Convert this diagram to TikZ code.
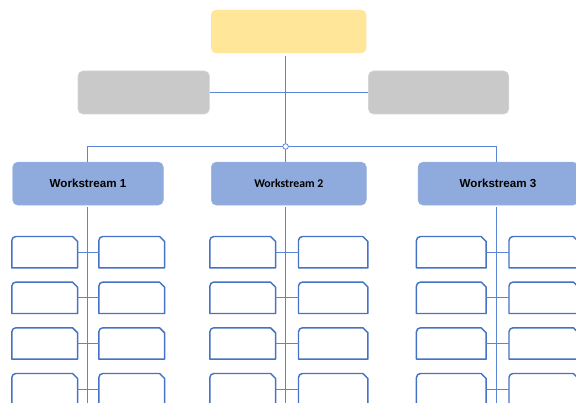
\documentclass[tikz,border=0pt]{standalone}
\usepackage{fontspec}
\setmainfont{Liberation Sans}
\newfontfamily\calibfont{Carlito}
\definecolor{ylw}{HTML}{FFE699}
\definecolor{gry}{HTML}{C9C9C9}
\definecolor{wsf}{HTML}{8FAADC}
\definecolor{lnc}{HTML}{5B86D6}
\definecolor{bxc}{HTML}{4472C4}
\newcommand\snipbox[1]{\draw[subline] (#1.south west) -- ([yshift=-4pt]#1.north west) arc[start angle=180,end angle=90,radius=4pt] -- ([xshift=-5pt]#1.north east) -- ([yshift=-5pt]#1.north east) -- (#1.south east) -- cycle;}
\begin{document}
\begin{tikzpicture}[x=1pt,y=-1pt,
  big/.style={rounded corners=5pt, inner sep=0, minimum height=43pt},
  topbox/.style={big, fill=ylw, draw=ylw!90!white, line width=0.4pt, minimum width=155pt},
  sidebox/.style={big, fill=gry, draw=gry!80!white, line width=0.6pt},
  wsbox/.style={big, fill=wsf, draw=wsf!90!white, line width=0.4pt, font=\bfseries\fontsize{11.6}{13}\selectfont},
  subbox/.style={inner sep=0, minimum height=31pt},
  subline/.style={draw=bxc, line width=1.45pt, line join=round},
  conn/.style={draw=lnc, line width=1pt}]
\path[use as bounding box, clip] (0,0) rectangle (576,403);
% top level
\node[topbox] (top) at (288.7,31.5) {};
\node[sidebox, minimum width=131.4pt] (g1) at (143.7,92.5) {};
\node[sidebox, minimum width=140.3pt] (g2) at (438.6,92.5) {};
% workstreams
\node[wsbox, minimum width=150.6pt] (ws1) at (88,183.6) {Workstream 1};
\node[wsbox, minimum width=155pt, font=\calibfont\bfseries\fontsize{11.8}{13}\selectfont] (ws2) at (288.8,183.6) {Workstream 2};
\node[wsbox, minimum width=160pt] (ws3) at (498,183.6) {Workstream 3};
% coordinates
\coordinate (hub) at (285.6,146.5);
\coordinate (d1) at (87.4,146.5);
\coordinate (d3) at (496.3,146.5);
\coordinate (s1) at (87.3,410);
\coordinate (s2) at (285.7,410);
\coordinate (s3) at (496.3,410);
% top connectors
\draw[conn] (g1.east) -- (g2.west);
\draw[conn] ([yshift=-2.5pt]hub |- top.south) -- (hub) -- (hub |- ws2.north);
\draw[conn] (d1 |- ws1.north) -- (d1) -- (d3) -- (d3 |- ws3.north);
% spines
\draw[conn] ([yshift=-2pt]s1 |- ws1.south) -- (s1);
\draw[conn] ([yshift=-2pt]s2 |- ws2.south) -- (s2);
\draw[conn] ([yshift=-2pt]s3 |- ws3.south) -- (s3);
% sub boxes
\foreach \c/\lx/\lw/\rx/\rw in {1/44.7/65.3/131.7/65.3, 2/242.7/65.3/333.2/69, 3/451.3/69.3/543.7/69}{
  \foreach \r/\yy in {1/252.2,2/297.8,3/343.5,4/389.2}{
    \node[subbox, minimum width=\lw pt] (L\c\r) at (\lx,\yy) {};
    \node[subbox, minimum width=\rw pt] (R\c\r) at (\rx,\yy) {};
    \snipbox{L\c\r}
    \snipbox{R\c\r}
    \draw[conn] (L\c\r.east) -- (R\c\r.west);
  }
}
\node[circle, draw=lnc, fill=white, inner sep=0, minimum size=5.5pt, line width=0.8pt] (hubc) at (hub) {};
\end{tikzpicture}
\end{document}
